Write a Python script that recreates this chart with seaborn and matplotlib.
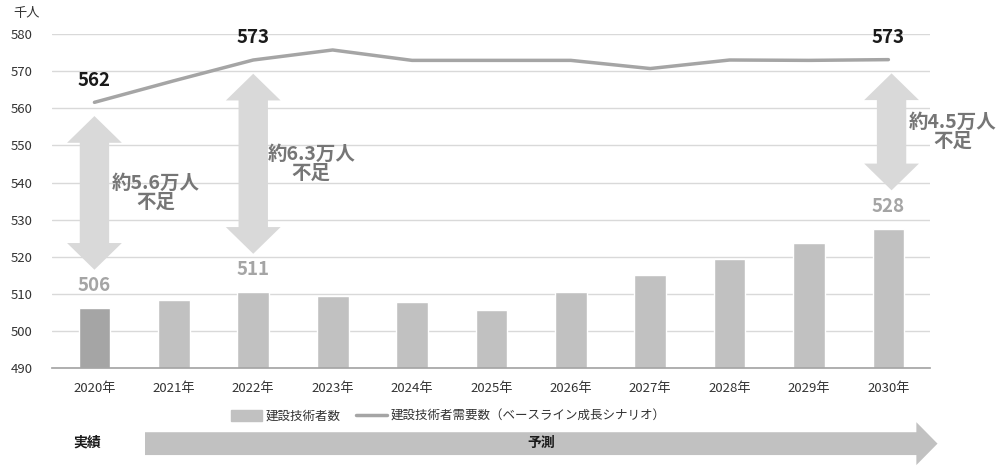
import numpy as np
import pandas as pd
import seaborn as sns
import matplotlib.pyplot as plt
from matplotlib.patches import FancyArrow, Polygon, Patch
from matplotlib.lines import Line2D

years = ['2020年', '2021年', '2022年', '2023年', '2024年', '2025年',
         '2026年', '2027年', '2028年', '2029年', '2030年']
supply = [506.2, 508.4, 510.5, 509.5, 507.8, 505.7, 510.5, 515.2, 519.4, 523.6, 527.6]
demand = [561.6, 567.4, 573.0, 575.7, 572.9, 572.9, 572.9, 570.7, 573.0, 572.9, 573.1]

# which years get labels / shortage arrows
label_idx = [0, 2, 10]
supply_labels = ['506', '511', '528']
demand_labels = ['562', '573', '573']
shortage_text = ['約5.6万人\n不足', '約6.3万人\n不足', '約4.5万人\n不足']

sns.set_theme(style='white')
plt.rcParams['font.family'] = ['Noto Sans CJK JP', 'DejaVu Sans']

df = pd.DataFrame({'year': years, 'supply': supply})
bar_colors = ['#a5a5a5'] + ['#c1c1c1'] * (len(years) - 1)

fig = plt.figure(figsize=(10.07, 4.66), dpi=100)
ax = fig.add_axes([0.052, 0.21, 0.872, 0.717])

sns.barplot(data=df, x='year', y='supply', hue='year', palette=bar_colors,
            legend=False, width=0.4, ax=ax, zorder=2)
sns.lineplot(x=np.arange(len(years)), y=demand, color='#a5a5a5', linewidth=2.5,
             ax=ax, zorder=3)

ax.set_ylim(490, 580)
ax.set_xlim(-0.53, len(years) - 0.47)
ax.set_yticks(np.arange(490, 581, 10))
ax.yaxis.grid(True, color='#d9d9d9', linewidth=1)
ax.set_axisbelow(True)
for s in ['top', 'right', 'left']:
    ax.spines[s].set_visible(False)
ax.spines['bottom'].set_color('#a6a6a6')
ax.tick_params(axis='both', length=0, labelsize=9.5, colors='#333333')
ax.tick_params(axis='x', pad=10)
ax.tick_params(axis='y', pad=14)
ax.set_xlabel('')
ax.set_ylabel('')
ax.text(-0.045, 1.06, '千人', transform=ax.transAxes, fontsize=9.5, color='#333333',
        ha='left', va='center')


def double_arrow(xc, y0, y1, shaft=0.37, head=0.69, hl=7.2):
    pts = [(xc, y1), (xc + head / 2, y1 - hl), (xc + shaft / 2, y1 - hl),
           (xc + shaft / 2, y0 + hl), (xc + head / 2, y0 + hl), (xc, y0),
           (xc - head / 2, y0 + hl), (xc - shaft / 2, y0 + hl),
           (xc - shaft / 2, y1 - hl), (xc - head / 2, y1 - hl)]
    return Polygon(pts, closed=True, facecolor='#d9d9d9', edgecolor='none', zorder=4)


text_dx = [0.77, 0.73, 0.81]
for k, i in enumerate(label_idx):
    ax.text(i, demand[i] + 6, demand_labels[k], ha='center', va='center',
            fontsize=13.5, fontweight='bold', color='#1a1a1a')
    ax.text(i, supply[i] + 6, supply_labels[k], ha='center', va='center',
            fontsize=13.5, fontweight='bold', color='#a5a5a5')
    top = demand[i] - 3.7
    bot = supply[i] + 10.3
    mid = (top + bot) / 2
    xc = i + (0.04 if i == 10 else 0)
    ax.add_patch(double_arrow(xc, bot, top))
    ax.text(i + text_dx[k], mid, shortage_text[k], ha='center', va='center',
            fontsize=14, fontweight='bold', color='#767676', linespacing=1.05, zorder=5)

handles = [Patch(color='#c1c1c1'), Line2D([0], [0], color='#a5a5a5', linewidth=2.5)]
fig.legend(handles, ['建設技術者数', '建設技術者需要数（ベースライン成長シナリオ）'],
           loc='center', bbox_to_anchor=(0.445, 0.107), ncol=2, frameon=False,
           fontsize=9, handlelength=2.5, handleheight=0.9, columnspacing=1.2,
           handletextpad=0.3, labelcolor='#333333')

fig.add_artist(FancyArrow(0.144, 0.048, 0.787, 0, width=0.049, head_width=0.092,
                          head_length=0.021, length_includes_head=True,
                          color='#c1c1c1', linewidth=0, transform=fig.transFigure))
fig.text(0.087, 0.050, '実績', ha='center', va='center', fontsize=10,
         fontweight='bold', color='#1a1a1a')
fig.text(0.537, 0.050, '予測', ha='center', va='center', fontsize=10,
         fontweight='bold', color='#1a1a1a')

fig.savefig('out.png', dpi=100)
